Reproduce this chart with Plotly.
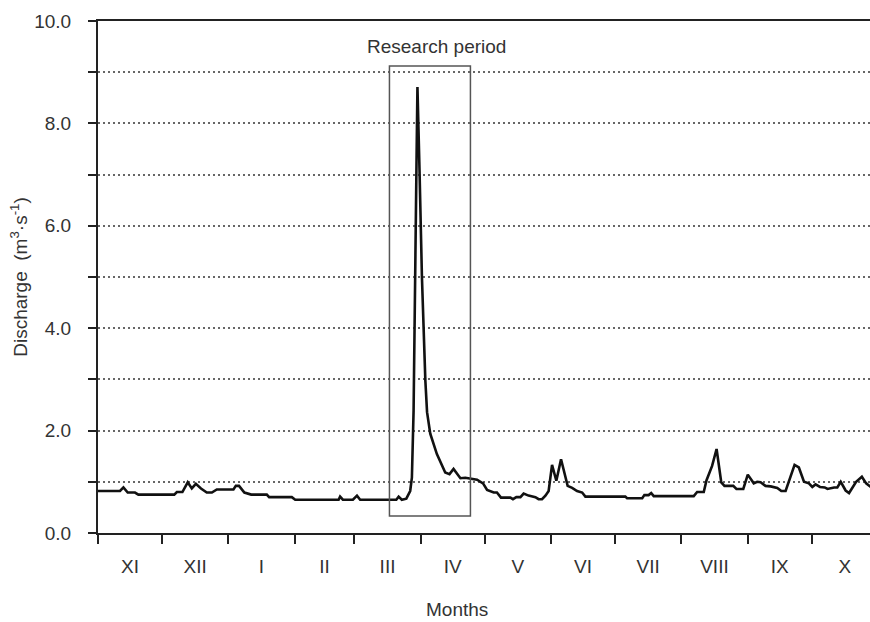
import plotly.graph_objects as go

# Daily discharge trace (day index from 1 November)
days = [0, 10.3, 11.9, 13.9, 17.3, 18.9, 35.7, 36.9, 39.5, 42.0, 43.9, 45.8, 48.2, 50.9,
        53.3, 55.6, 63.4, 64.5, 66.0, 68.5, 71.7, 79.0, 80.1, 90.7, 92.3,
        112.6, 113.3, 114.6, 119.3, 121.2, 122.7, 139.6, 140.7, 142.2, 144.3, 146.1,
        146.9, 147.7, 149.0, 149.5, 150.5, 151.6, 153.2, 154.0, 155.5, 158.6, 162.5,
        164.5, 166.4, 169.6, 171.9, 175.0, 177.4, 180.2, 182.1, 185.2, 186.7, 188.6,
        193.0, 194.2, 195.8, 197.7, 199.2, 201.5, 204.7, 206.2, 207.8, 209.4, 210.9,
        212.5, 214.5, 216.7, 219.8, 221.9, 224.2, 226.6, 228.1, 246.8, 247.6, 254.7,
        255.7, 257.7, 258.9, 260.1, 278.8, 280.4, 283.5, 284.8, 287.4, 289.5, 291.7,
        293.2, 297.3, 298.8, 302.0, 304.1, 306.9, 308.5, 310.1, 312.4, 314.8, 317.9,
        319.8, 321.8, 323.4, 326.0, 328.0, 330.4, 332.7, 334.3, 335.8, 337.9, 340.1,
        341.4, 344.5, 346.0, 347.6, 349.9, 351.5, 354.8, 357.5, 359.5, 361.9]
discharge = [0.82, 0.82, 0.89, 0.79, 0.79, 0.75, 0.75, 0.80, 0.80, 0.99, 0.87, 0.96, 0.87, 0.79,
             0.79, 0.85, 0.85, 0.92, 0.92, 0.79, 0.75, 0.75, 0.70, 0.70, 0.65,
             0.65, 0.71, 0.65, 0.65, 0.73, 0.65, 0.65, 0.71, 0.65, 0.67, 0.82,
             1.08, 2.39, 7.00, 8.71, 7.03, 5.00, 2.98, 2.36, 1.94, 1.54, 1.18,
             1.15, 1.25, 1.07, 1.08, 1.05, 1.04, 0.97, 0.84, 0.79, 0.79, 0.69,
             0.69, 0.66, 0.70, 0.70, 0.77, 0.73, 0.70, 0.66, 0.66, 0.73, 0.82,
             1.33, 1.02, 1.44, 0.92, 0.88, 0.82, 0.79, 0.71, 0.71, 0.68, 0.68,
             0.74, 0.74, 0.78, 0.72, 0.72, 0.80, 0.80, 1.03, 1.31, 1.64, 0.99,
             0.92, 0.92, 0.86, 0.86, 1.14, 0.97, 1.00, 0.99, 0.92, 0.91, 0.88,
             0.82, 0.82, 1.02, 1.33, 1.28, 1.00, 0.97, 0.90, 0.95, 0.90, 0.89,
             0.86, 0.89, 0.89, 1.00, 0.83, 0.78, 1.00, 1.10, 0.97, 0.89]

months = ["XI", "XII", "I", "II", "III", "IV", "V", "VI", "VII", "VIII", "IX", "X"]
month_days = [30, 31, 31, 28, 31, 30, 31, 30, 31, 31, 30, 31]

y_ticks = list(range(0, 11))
y_labels = ["0.0", "", "2.0", "", "4.0", "", "6.0", "", "8.0", "", "10.0"]

research_period = [136.4, 174.3]   # days
research_range = [0.33, 9.12]      # discharge extent of the box

bounds = [0]
for m in month_days:
    bounds.append(bounds[-1] + m)
centres = [(bounds[i] + bounds[i + 1]) / 2 for i in range(len(months))]

FONT = "Liberation Sans, Arial, sans-serif"
TXT = "#333333"

fig = go.Figure()
fig.add_trace(go.Scatter(x=days, y=discharge, mode="lines",
                         line=dict(color="#111111", width=2.6),
                         showlegend=False, hoverinfo="skip"))

fig.add_shape(type="rect", xref="x", yref="y",
              x0=research_period[0], x1=research_period[1],
              y0=research_range[0], y1=research_range[1],
              line=dict(color="#555555", width=1.5), fillcolor="rgba(0,0,0,0)")

fig.add_annotation(x=(research_period[0] + research_period[1]) / 2 + 3.2, y=9.5,
                   xref="x", yref="y", text="Research period", showarrow=False,
                   font=dict(family=FONT, size=19, color=TXT), yanchor="middle")

fig.add_annotation(x=0.4646, y=-0.125, xref="paper", yref="paper", text="Months",
                   showarrow=False, yanchor="top",
                   font=dict(family=FONT, size=19, color=TXT))

fig.update_layout(
    width=870, height=622,
    margin=dict(l=98, r=0, t=21, b=89),
    paper_bgcolor="white", plot_bgcolor="white",
    font=dict(family=FONT, size=19, color=TXT),
    xaxis=dict(range=[0, 361.3], tickvals=centres, ticktext=months, ticks="",
               ticklabelstandoff=15,
               showline=True, linecolor="#222222", linewidth=2, mirror=True,
               showgrid=False, zeroline=False,
               tickfont=dict(family=FONT, size=19, color=TXT),
               minor=dict(tickvals=bounds, ticks="outside", ticklen=9, tickwidth=2,
                          tickcolor="#222222", showgrid=False)),
    yaxis=dict(range=[0, 10], tickvals=y_ticks, ticktext=y_labels,
               ticks="outside", ticklen=8, tickwidth=2, tickcolor="#222222",
               ticklabelstandoff=13,
               showline=True, linecolor="#222222", linewidth=2,
               showgrid=True, gridcolor="#666666", gridwidth=2, griddash="2px,3px",
               zeroline=False,
               tickfont=dict(family=FONT, size=19, color=TXT),
               title=dict(text="Discharge\u00a0 (m<sup>3</sup>·s<sup>-1</sup>)", standoff=2,
                          font=dict(family=FONT, size=19, color=TXT))),
)

fig.write_html("out.html")
